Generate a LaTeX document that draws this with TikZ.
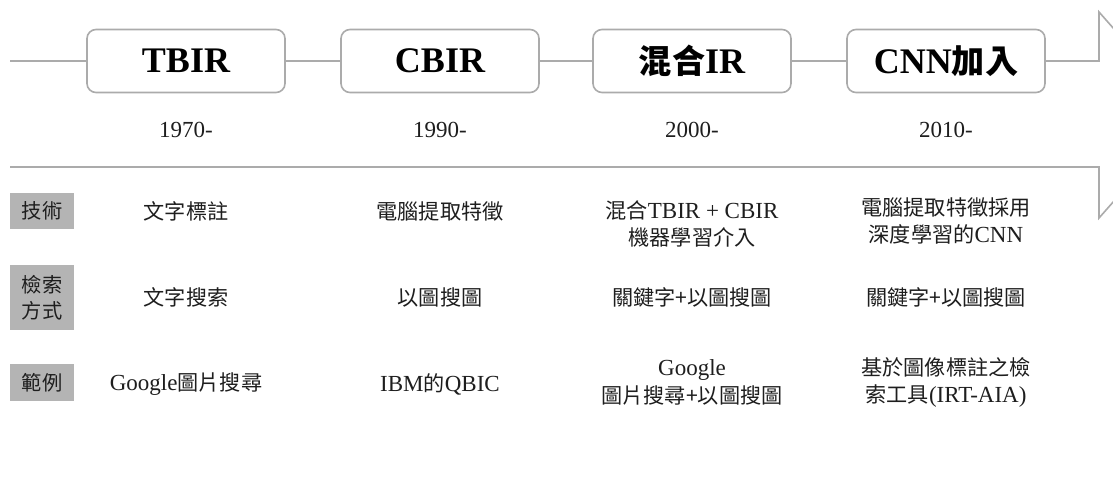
\documentclass[tikz,border=0pt]{standalone}
\usepackage{fontspec}
\setmainfont{Liberation Serif}
\newfontfamily\cjk[Scale=0.92]{Noto Sans CJK TC}
\newcommand\zh[1]{{\cjk #1}}
\definecolor{linegray}{HTML}{ABABAB}
\definecolor{labelgray}{HTML}{B4B4B4}
\definecolor{textdark}{HTML}{1E1E1E}
\begin{document}
\begin{tikzpicture}[x=1pt,y=-1pt,
  era/.style={draw=linegray,line width=1.6pt,rounded corners=9pt,fill=white,
    minimum width=198pt,minimum height=63pt,inner sep=0pt,
    font=\fontsize{36}{40}\selectfont\bfseries,text=black},
  year/.style={font=\fontsize{23}{26}\selectfont,text=textdark},
  cell/.style={font=\fontsize{23}{27}\selectfont,text=textdark,align=center,inner sep=0pt},
  rowlabel/.style={fill=labelgray,minimum width=64pt,inner sep=0pt,
    font=\cjk\fontsize{22}{27}\selectfont,text=textdark,align=center},
  conn/.style={draw=linegray,line width=1.6pt}]
\useasboundingbox (0,0) rectangle (1113,495);
\clip (0,0) rectangle (1113,495);
\fill[white] (0,0) rectangle (1113,495);

% era boxes
\node[era] (tbir) at (186,61) {TBIR};
\node[era] (cbir) at (440,61) {CBIR};
\node[era] (mix)  at (692,61) {\zh{混合}IR};
\node[era] (cnn)  at (946,61) {CNN\zh{加入}};

% arrow outline coordinates
\coordinate (lstart) at (10,61);
\coordinate (ucorner) at (1099,61);
\coordinate (utop) at (1099,12);
\coordinate (tip) at (1190,115);
\coordinate (lbot) at (1099,218);
\coordinate (lcorner) at (1099,167);
\coordinate (lend) at (10,167);

\draw[conn] (lstart) -- (tbir.west);
\draw[conn] (tbir.east) -- (cbir.west);
\draw[conn] (cbir.east) -- (mix.west);
\draw[conn] (mix.east) -- (cnn.west);
\draw[conn,line join=miter] (cnn.east) -- (ucorner) -- (utop) -- (tip) -- (lbot) -- (lcorner) -- (lend);

% years
\node[year] (y1) at (186,130) {1970-};
\node[year] (y2) at (440,130) {1990-};
\node[year] (y3) at (692,130) {2000-};
\node[year] (y4) at (946,130) {2010-};

% row labels
\node[rowlabel,minimum height=36pt] (l1) at (42,211) {技術};
\node[rowlabel,minimum height=65pt] (l2) at (42,297.5) {檢索\\[-1pt]方式};
\node[rowlabel,minimum height=37pt] (l3) at (42,382.5) {範例};

% row 1
\node[cell] (r1c1) at (186,211) {\zh{文字標註}};
\node[cell] (r1c2) at (440,211) {\zh{電腦提取特徵}};
\node[cell] (r1c3) at (692,224) {\zh{混合}TBIR + CBIR\\\zh{機器學習介入}};
\node[cell] (r1c4) at (946,221) {\zh{電腦提取特徵採用}\\\zh{深度學習的}CNN};

% row 2
\node[cell] (r2c1) at (186,297) {\zh{文字搜索}};
\node[cell] (r2c2) at (440,297) {\zh{以圖搜圖}};
\node[cell] (r2c3) at (692,297) {\zh{關鍵字+以圖搜圖}};
\node[cell] (r2c4) at (946,297) {\zh{關鍵字+以圖搜圖}};

% row 3
\node[cell] (r3c1) at (186,384) {Google\zh{圖片搜尋}};
\node[cell] (r3c2) at (440,384) {IBM\zh{的}QBIC};
\node[cell] (r3c3) at (692,382) {Google\\[1pt]\zh{圖片搜尋+以圖搜圖}};
\node[cell] (r3c4) at (946,382) {\zh{基於圖像標註之檢}\\\zh{索工具}(IRT-AIA)};
\end{tikzpicture}
\end{document}
